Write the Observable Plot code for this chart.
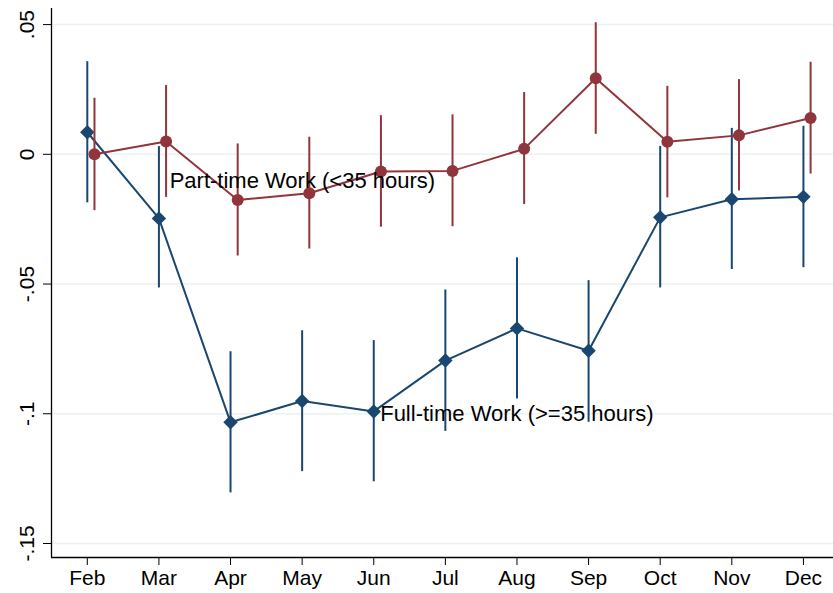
<!DOCTYPE html>
<html>
<head>
<meta charset="utf-8">
<script src="https://cdn.jsdelivr.net/npm/d3@7"></script>
<script src="https://cdn.jsdelivr.net/npm/@observablehq/plot@0.6"></script>
<style>
  body { margin: 0; background: #fff; }
</style>
</head>
<body>
<div id="chart"></div>
<script>
// months on the x axis (position = index)
const months = ["Feb", "Mar", "Apr", "May", "Jun", "Jul", "Aug", "Sep", "Oct", "Nov", "Dec"];

// full-time work (>=35 hours): estimate and 95% CI
const fullEst = [0.0085, -0.0247, -0.1033, -0.0951, -0.0991, -0.0795, -0.0671, -0.0757, -0.0243, -0.0173, -0.0164];
const fullLo  = [-0.0187, -0.0515, -0.1305, -0.1223, -0.1262, -0.1068, -0.0943, -0.1033, -0.0515, -0.0444, -0.0437];
const fullHi  = [0.0357, 0.0030, -0.0761, -0.0680, -0.0718, -0.0523, -0.0399, -0.0487, 0.0030, 0.0100, 0.0108];

// part-time work (<35 hours)
const partEst = [0.0000, 0.0049, -0.0176, -0.0150, -0.0066, -0.0064, 0.0021, 0.0293, 0.0048, 0.0073, 0.0140];
const partLo  = [-0.0217, -0.0166, -0.0392, -0.0365, -0.0281, -0.0279, -0.0194, 0.0077, -0.0168, -0.0141, -0.0076];
const partHi  = [0.0216, 0.0265, 0.0040, 0.0066, 0.0149, 0.0152, 0.0238, 0.0507, 0.0262, 0.0288, 0.0355];

const yTicks = [0.05, 0, -0.05, -0.1, -0.15];
const yTickLabels = [".05", "0", "-.05", "-.1", "-.15"];

// series labels placed inside the plot
const labelText = ["Part-time Work (<35 hours)", "Full-time Work (>=35 hours)"];
const labelX = [1.15, 4.09];
const labelY = [-0.0131, -0.1027];

const xDomain = [-0.5, 10.42];
const yDomain = [-0.1554, 0.0562];

const navy = "#1a476f";
const maroon = "#90353b";
const partShift = 0.1; // part-time series drawn slightly right of the tick

const full = months.map((m, i) => ({x: i, est: fullEst[i], lo: fullLo[i], hi: fullHi[i]}));
const part = months.map((m, i) => ({x: i + partShift, est: partEst[i], lo: partLo[i], hi: partHi[i]}));
const labels = labelText.map((t, i) => ({x: labelX[i], y: labelY[i], text: t}));

const chart = Plot.plot({
  width: 833,
  height: 593,
  marginLeft: 51,
  marginRight: 0,
  marginTop: 8,
  marginBottom: 36,
  x: {domain: xDomain},
  y: {domain: yDomain},
  style: {
    fontFamily: "'Liberation Sans', Arial, sans-serif",
    fontSize: "21px",
    color: "#000",
    background: "#fff"
  },
  marks: [
    Plot.ruleY(yTicks, {stroke: "#eaf2f3", strokeWidth: 1.5}),
    // axis lines
    Plot.ruleX([xDomain[0]], {stroke: "#000", strokeWidth: 1.3}),
    Plot.ruleY([yDomain[0]], {stroke: "#000", strokeWidth: 1.3}),
    Plot.axisX({
      ticks: d3.range(months.length),
      tickFormat: i => months[i],
      tickSize: 8,
      tickPadding: 5,
      label: null,
      fontSize: 21
    }),
    Plot.axisY({
      ticks: yTicks,
      tickFormat: d => yTickLabels[yTicks.indexOf(d)],
      tickSize: 8,
      tickRotate: -90,
      tickPadding: 10,
      label: null,
      fontSize: 21
    }),
    // full-time
    Plot.ruleX(full, {x: "x", y1: "lo", y2: "hi", stroke: navy, strokeWidth: 2}),
    Plot.line(full, {x: "x", y: "est", stroke: navy, strokeWidth: 2}),
    Plot.dot(full, {x: "x", y: "est", symbol: "diamond2", r: 6.5, fill: navy, stroke: null}),
    // part-time
    Plot.ruleX(part, {x: "x", y1: "lo", y2: "hi", stroke: maroon, strokeWidth: 2}),
    Plot.line(part, {x: "x", y: "est", stroke: maroon, strokeWidth: 2}),
    Plot.dot(part, {x: "x", y: "est", r: 6, fill: maroon, stroke: null}),
    Plot.text(labels, {
      x: "x", y: "y", text: "text",
      textAnchor: "start", lineAnchor: "bottom",
      fontSize: 22, fill: "#000"
    })
  ]
});

d3.select("#chart").append(() => chart);
</script>
</body>
</html>
